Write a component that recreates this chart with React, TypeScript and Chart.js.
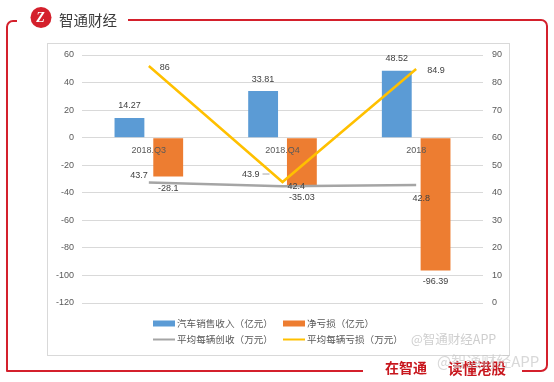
import React, { useEffect, useRef } from "react";
import { Chart, registerables } from "chart.js";

Chart.register(...registerables);

// ---- data ----
const categories = ["2018.Q3", "2018.Q4", "2018"];
const revenue = [14.27, 33.81, 48.52]; // 汽车销售收入（亿元）
const netLoss = [-28.1, -35.03, -96.39]; // 净亏损（亿元）
const revenuePerCar = [43.7, 42.4, 42.8]; // 平均每辆创收（万元）
const lossPerCar = [86, 43.9, 84.9]; // 平均每辆亏损（万元）
const seriesNames = [
  "汽车销售收入（亿元）",
  "净亏损（亿元）",
  "平均每辆创收（万元）",
  "平均每辆亏损（万元）",
];
const leftAxis = { min: -120, max: 60, step: 20 };
const rightAxis = { min: 0, max: 90, step: 10 };

const colors = ["#5B9BD5", "#ED7D31", "#A5A5A5", "#FFC000"];
const RED = "#d4202c";
const NUM_FONT = "'Liberation Sans', 'Noto Sans CJK SC', sans-serif";
const CJK_FONT = "'Noto Sans CJK SC', sans-serif";

// label placement per dataset/point: [dx, dy, align]
const labelPlacement: [number, number, CanvasTextAlign][][] = [
  [[0, -12, "center"], [0, -12, "center"], [0, -12, "center"]],
  [[0, 12, "center"], [0, 12, "center"], [0, 11, "center"]],
  [[-1, -7, "right"], [5, 0, "left"], [5, 13, "center"]],
  [[11, 1, "left"], [-23, -8, "right"], [11, 1, "left"]],
];

const framePlugin = {
  id: "frame",
  beforeDraw(chart: any) {
    const ctx = chart.ctx as CanvasRenderingContext2D;
    ctx.save();
    ctx.fillStyle = "#ffffff";
    ctx.fillRect(0, 0, chart.width, chart.height);

    // inner chart box
    ctx.strokeStyle = "#d9d9d9";
    ctx.lineWidth = 1;
    ctx.strokeRect(47.5, 43.5, 462, 312);

    // red frame
    ctx.strokeStyle = RED;
    ctx.lineWidth = 2;
    ctx.lineJoin = "round";
    ctx.beginPath();
    ctx.moveTo(17, 21);
    ctx.arcTo(7, 21, 7, 30, 6);
    ctx.lineTo(7, 371);
    ctx.lineTo(363, 371);
    ctx.stroke();
    ctx.beginPath();
    ctx.moveTo(128, 20);
    ctx.arcTo(547, 20, 547, 30, 6);
    ctx.lineTo(547, 362);
    ctx.arcTo(547, 371, 535, 371, 6);
    ctx.lineTo(522, 371);
    ctx.stroke();

    // logo
    ctx.fillStyle = RED;
    ctx.beginPath();
    ctx.arc(41, 17.5, 10.5, 0, Math.PI * 2);
    ctx.fill();
    ctx.fillStyle = "#ffffff";
    ctx.font = "italic bold 14px 'Liberation Serif', serif";
    ctx.textAlign = "center";
    ctx.textBaseline = "middle";
    ctx.fillText("Z", 40.5, 18);

    // title
    ctx.fillStyle = "#3a3a3a";
    ctx.font = "14.5px " + CJK_FONT;
    ctx.textAlign = "left";
    ctx.fillText("智通财经", 59, 20);
    ctx.restore();
  },
  afterDraw(chart: any) {
    const ctx = chart.ctx as CanvasRenderingContext2D;
    ctx.save();
    // legend (2 x 2)
    const cols = [153, 283];
    const rows = [323.5, 339.5];
    ctx.font = "9.6px " + CJK_FONT;
    ctx.textBaseline = "middle";
    ctx.textAlign = "left";
    chart.data.datasets.forEach((ds: any, i: number) => {
      const x = cols[i % 2];
      const y = rows[Math.floor(i / 2)];
      if (ds.type === "bar") {
        ctx.fillStyle = ds.backgroundColor;
        ctx.fillRect(x, y - 3, 22, 6);
      } else {
        ctx.strokeStyle = ds.borderColor;
        ctx.lineWidth = 2;
        ctx.beginPath();
        ctx.moveTo(x, y);
        ctx.lineTo(x + 22, y);
        ctx.stroke();
      }
      ctx.fillStyle = "#595959";
      ctx.fillText(ds.label, x + 24, y);
    });

    // watermark inside box
    ctx.fillStyle = "rgba(190,190,190,0.75)";
    ctx.font = "12.5px " + CJK_FONT;
    ctx.fillText("@智通财经APP", 411, 339);

    // slogan
    ctx.fillStyle = "#c8161d";
    ctx.font = "bold 14px " + CJK_FONT;
    ctx.fillText("在智通", 385, 368);
    ctx.font = "bold 14.5px " + CJK_FONT;
    ctx.fillText("读懂港股", 448, 368);

    ctx.fillStyle = "rgba(200,200,200,0.7)";
    ctx.font = "15px " + CJK_FONT;
    ctx.fillText("@智通财经APP", 437, 361);
    ctx.restore();
  },
};

const valueLabelPlugin = {
  id: "valueLabels",
  afterDatasetsDraw(chart: any) {
    const ctx = chart.ctx as CanvasRenderingContext2D;
    ctx.save();
    ctx.font = "9px " + NUM_FONT;
    ctx.fillStyle = "#404040";
    ctx.textBaseline = "middle";
    chart.data.datasets.forEach((ds: any, i: number) => {
      const meta = chart.getDatasetMeta(i);
      meta.data.forEach((el: any, j: number) => {
        const [dx, dy, align] = labelPlacement[i][j];
        ctx.textAlign = align;
        ctx.fillText(String(ds.data[j]), el.x + dx, el.y + dy);
      });
    });
    // leader line for 43.9 label
    const m = chart.getDatasetMeta(3).data[1];
    ctx.strokeStyle = "#a6a6a6";
    ctx.lineWidth = 1;
    ctx.beginPath();
    ctx.moveTo(m.x - 20, m.y - 8);
    ctx.lineTo(m.x - 13, m.y - 8);
    ctx.stroke();
    ctx.restore();
  },
};

export default function App() {
  const ref = useRef<HTMLCanvasElement | null>(null);
  useEffect(() => {
    if (!ref.current) return;
    const chart = new Chart(ref.current, {
      type: "bar",
      data: {
        labels: categories,
        datasets: [
          {
            type: "bar",
            label: seriesNames[0],
            data: revenue,
            backgroundColor: colors[0],
            yAxisID: "y",
            order: 2,
            categoryPercentage: 0.58,
            barPercentage: 0.77,
          },
          {
            type: "bar",
            label: seriesNames[1],
            data: netLoss,
            backgroundColor: colors[1],
            yAxisID: "y",
            order: 2,
            categoryPercentage: 0.58,
            barPercentage: 0.77,
          },
          {
            type: "line",
            label: seriesNames[2],
            data: revenuePerCar,
            borderColor: colors[2],
            backgroundColor: colors[2],
            borderWidth: 2.5,
            pointRadius: 0,
            yAxisID: "y1",
            order: 1,
          },
          {
            type: "line",
            label: seriesNames[3],
            data: lossPerCar,
            borderColor: colors[3],
            backgroundColor: colors[3],
            borderWidth: 2.5,
            pointRadius: 0,
            yAxisID: "y1",
            order: 0,
          },
        ] as any,
      },
      options: {
        animation: false,
        responsive: false,
        devicePixelRatio: 1,
        layout: { padding: { left: 40, right: 41, top: 55, bottom: 79 } },
        plugins: {
          legend: { display: false },
          tooltip: { enabled: false },
        },
        scales: {
          x: {
            type: "category",
            position: { y: 0 } as any,
            grid: { display: false, drawTicks: false },
            border: { display: false },
            ticks: {
              z: 1,
              color: "#595959",
              font: { size: 9, family: NUM_FONT },
              padding: 7,
              maxRotation: 0,
              autoSkip: false,
            },
          },
          y: {
            position: "left",
            min: leftAxis.min,
            max: leftAxis.max,
            grid: { color: "#d9d9d9", drawTicks: false, lineWidth: 1 },
            border: { display: false },
            ticks: {
              stepSize: leftAxis.step,
              color: "#595959",
              font: { size: 9, family: NUM_FONT },
              padding: 8,
            },
            afterFit: (s: any) => {
              s.width = 42;
            },
          },
          y1: {
            position: "right",
            min: rightAxis.min,
            max: rightAxis.max,
            grid: { display: false, drawTicks: false },
            border: { display: false },
            ticks: {
              stepSize: rightAxis.step,
              color: "#595959",
              font: { size: 9, family: NUM_FONT },
              padding: 9,
            },
            afterFit: (s: any) => {
              s.width = 30;
            },
          },
        },
      },
      plugins: [framePlugin, valueLabelPlugin],
    } as any);
    return () => chart.destroy();
  }, []);
  return (
    <div style={{ position: "absolute", left: 0, top: 0, width: 554, height: 382 }}>
      <canvas ref={ref} width={554} height={382} style={{ display: "block", width: 554, height: 382 }} />
    </div>
  );
}
